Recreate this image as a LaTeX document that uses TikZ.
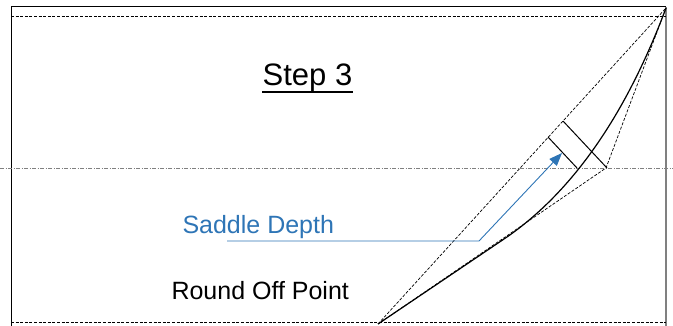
\documentclass[tikz,border=0pt]{standalone}
\usepackage{fontspec}
\setmainfont{Liberation Sans}
\usetikzlibrary{arrows.meta}
\definecolor{saddleblue}{RGB}{46,117,182}
\tikzset{
  guide/.style={densely dashed,line width=0.7pt,dash pattern=on 3pt off 1.6pt},
  axisline/.style={gray,line width=0.8pt,dash pattern=on 4pt off 1.5pt on 1pt off 1.5pt},
  marker/.style={line width=1pt}
}
\begin{document}
\begin{tikzpicture}[>=stealth,x=1pt,y=-1pt,line width=1pt,color=black]
		\useasboundingbox (0,0) rectangle (673,326);
		\coordinate (A) at (666,8);
		\coordinate (R) at (378,324);
		\coordinate (C) at (606,168);
		\coordinate (B) at (507,237);
		\coordinate (M1a) at (563,121);
		\coordinate (M1b) at (607,168);
		\coordinate (M2a) at (548,137);
		\coordinate (M2b) at (577,168);
		\coordinate (K) at (479,241);
		\coordinate (L) at (227,241);
		\coordinate (T) at (562,153);
		\draw (11,326) -- (11,7) -- (666,7);
		\draw[gray,line width=1.5pt] (666,7) -- (666,326);
		\draw[guide] (11,16) -- (666,16);
		\draw[guide] (11,322) -- (666,322);
		\draw[axisline] (0,168) -- (673,168);
		\draw[guide] (R) -- (A);
		\draw[guide] (R) -- (C) -- (A);
		\draw[line width=1.2pt] (R) -- (B) .. controls (573,191) and (626,114.7) .. (A);
		\draw[marker] (M1a) -- (M1b);
		\draw[marker] (M2a) -- (M2b);
		\draw[saddleblue,line width=0.9pt,-{Triangle[length=13pt,width=10pt]}] (L) -- (K) -- (T);
		\node[anchor=base,inner sep=0pt,font=\fontsize{31}{36}\selectfont] (step) at (307.5,86) {Step 3};
		\draw[line width=1.8pt] ([yshift=-6pt]step.base west) -- ([yshift=-6pt]step.base east);
		\node[anchor=base west,inner sep=0pt,text=saddleblue,font=\fontsize{25}{30}\selectfont] (depth) at (182,234) {Saddle Depth};
		\node[anchor=base west,inner sep=0pt,font=\fontsize{25}{30}\selectfont] (round) at (171,300) {Round Off Point};
\end{tikzpicture}
\end{document}
